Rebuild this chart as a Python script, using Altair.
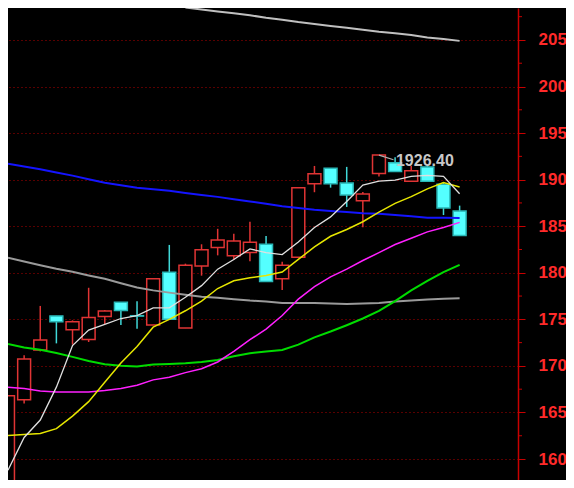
import altair as alt
import pandas as pd

# ---- candle data (index 0..28) ----
idx = list(range(29))
open_ = [1570.0, 1663.7, 1717.0, 1753.7, 1738.8, 1728.4, 1753.0, 1768.3, 1753.9, 1744.0,
         1800.5, 1740.6, 1807.3, 1827.1, 1818.4, 1821.9, 1830.6, 1793.5, 1816.7, 1895.6,
         1912.2, 1896.3, 1877.3, 1906.7, 1918.1, 1898.4, 1913.7, 1895.0, 1866.2]
close = [1667.9, 1707.3, 1727.8, 1747.5, 1747.5, 1752.0, 1758.9, 1759.6, 1753.5, 1793.5,
         1750.2, 1808.1, 1824.7, 1835.1, 1834.0, 1832.7, 1790.7, 1808.1, 1891.4, 1906.4,
         1895.6, 1883.5, 1884.6, 1926.4, 1908.8, 1909.5, 1898.4, 1869.6, 1839.9]
high = [1667.9, 1711.5, 1764.4, 1753.7, 1748.9, 1783.9, 1760.0, 1768.3, 1769.3, 1793.5,
        1829.9, 1809.8, 1830.6, 1847.2, 1842.0, 1854.8, 1839.5, 1811.9, 1891.4, 1914.7,
        1912.2, 1913.7, 1886.7, 1926.4, 1924.0, 1914.7, 1916.4, 1897.4, 1872.1]
low = [1560.0, 1659.6, 1715.6, 1724.2, 1722.9, 1725.7, 1745.0, 1744.0, 1739.8, 1744.0,
       1750.2, 1740.6, 1796.9, 1818.7, 1814.3, 1812.5, 1790.7, 1781.4, 1816.7, 1886.5,
       1891.4, 1870.7, 1848.9, 1903.3, 1908.8, 1898.4, 1898.4, 1862.0, 1839.9]

# ---- moving averages ----
ma_white = [1587.9, 1623.2, 1641.9, 1677.2, 1721.9, 1738.5, 1744.7, 1750.9, 1754.0, 1762.4,
            1762.4, 1773.8, 1786.2, 1803.9, 1814.3, 1825.7, 1821.6, 1819.5, 1833.0, 1848.6,
            1860.0, 1876.6, 1894.2, 1898.4, 1899.4, 1903.6, 1904.6, 1903.6, 1884.9]
ma_yellow = [1625.3, 1626.3, 1627.4, 1632.6, 1646.1, 1661.6, 1682.4, 1703.2, 1720.8, 1741.6,
             1749.9, 1759.2, 1769.6, 1783.1, 1791.4, 1794.6, 1797.1, 1800.8, 1814.3, 1827.8,
             1839.2, 1846.5, 1854.8, 1865.2, 1874.5, 1881.8, 1890.1, 1896.8, 1892.2]
ma_magenta = [1677.2, 1675.7, 1673.1, 1672.0, 1672.0, 1672.0, 1673.6, 1675.7, 1679.3, 1685.0,
              1687.9, 1692.8, 1696.9, 1704.2, 1715.6, 1728.1, 1739.5, 1754.1, 1771.7, 1785.2,
              1795.6, 1803.9, 1813.2, 1821.6, 1830.4, 1837.1, 1843.9, 1848.6, 1854.1]
ma_green = [1723.6, 1719.8, 1717.4, 1713.9, 1709.7, 1705.3, 1701.8, 1700.1, 1699.3, 1701.6,
            1702.1, 1702.9, 1704.2, 1706.3, 1710.4, 1713.6, 1715.6, 1717.2, 1722.9, 1730.7,
            1736.9, 1743.7, 1750.9, 1759.2, 1769.6, 1781.1, 1791.4, 1800.8, 1808.4]
ma_gray = [1816.1, 1812.2, 1808.1, 1804.4, 1801.1, 1797.1, 1793.5, 1788.8, 1784.2, 1781.1,
           1778.7, 1776.4, 1774.3, 1773.3, 1771.7, 1770.2, 1769.1, 1767.6, 1767.6, 1767.6,
           1767.0, 1766.5, 1767.0, 1767.6, 1769.1, 1770.2, 1771.2, 1772.2, 1772.7]
ma_top_idx = list(range(11, 29))
ma_top = [2084.8, 2082.7, 2080.6, 2078.6, 2076.5, 2073.9, 2071.8, 2069.2, 2067.1, 2065.1,
          2063.0, 2060.9, 2058.8, 2057.3, 2055.2, 2052.6, 2051.0, 2049.0]
ma_blue = [1917.1, 1914.0, 1911.2, 1907.7, 1904.3, 1900.5, 1896.6, 1894.0, 1891.4, 1889.8,
           1888.0, 1885.7, 1883.5, 1881.5, 1878.9, 1876.6, 1874.0, 1871.4, 1869.6, 1867.8,
           1866.4, 1865.2, 1863.8, 1863.3, 1862.0, 1860.7, 1859.2, 1859.0, 1858.9]

# ---- axis ticks / annotation ----
major_ticks = [1600, 1650, 1700, 1750, 1800, 1850, 1900, 1950, 2000, 2050]
minor_ticks = [1625, 1675, 1725, 1775, 1825, 1875, 1925, 1975, 2025, 2075]
ann_idx = [23]
ann_val = [1926.4]
ann_text = ["1926.40"]

W, H = 510, 472

df = pd.DataFrame({"idx": idx, "open": open_, "close": close, "high": high, "low": low})
df["dir"] = ["up" if c >= o else "down" for o, c in zip(open_, close)]

xscale = alt.Scale(domain=[0, 31.62], nice=False, zero=False)
yscale = alt.Scale(domain=[1577.5, 2084.3], nice=False, zero=False)
yaxis = alt.Axis(
    orient="right", values=major_ticks, title=None,
    labelExpr="'' + floor(datum.value / 10)",
    labelColor="#ff2a2a", labelFont="Liberation Sans", labelFontWeight="bold",
    labelFontSize=17, labelPadding=13, labelAlign="left", labelBaseline="middle",
    tickColor="#c80000", tickSize=7, tickWidth=1,
    domainColor="#c80000", domainWidth=1.5,
    grid=True, gridColor="#b00000", gridDash=[1, 3], gridWidth=1.2,
)

minor = alt.Chart(pd.DataFrame({"v": minor_ticks})).mark_rule(
    color="#c80000", strokeWidth=1, clip=False
).encode(
    y=alt.Y("v:Q", scale=yscale, axis=yaxis),
    x=alt.value(W), x2=alt.value(W + 4),
)

wick = alt.Chart(df).mark_rule(strokeWidth=1.5, clip=True).encode(
    x=alt.X("idx:Q", scale=xscale, axis=None),
    y=alt.Y("low:Q", scale=yscale, axis=yaxis),
    y2="high:Q",
    color=alt.Color("dir:N", scale=alt.Scale(domain=["up", "down"], range=["#e03434", "#40d8d8"]), legend=None),
)

body = alt.Chart(df).transform_calculate(
    x1="datum.idx - 0.4", x2="datum.idx + 0.4",
    top="max(datum.open, datum.close)", bot="min(datum.open, datum.close)",
).mark_rect(strokeWidth=1.5, clip=True).encode(
    x=alt.X("x1:Q", scale=xscale, axis=None),
    x2="x2:Q",
    y=alt.Y("bot:Q", scale=yscale, axis=yaxis),
    y2="top:Q",
    fill=alt.Fill("dir:N", scale=alt.Scale(domain=["up", "down"], range=["#000000", "#54ffff"]), legend=None),
    stroke=alt.Stroke("dir:N", scale=alt.Scale(domain=["up", "down"], range=["#e03434", "#2ab8b8"]), legend=None),
)

def line_layer(xs, ys, color, width):
    d = pd.DataFrame({"idx": xs, "v": ys})
    return alt.Chart(d).mark_line(color=color, strokeWidth=width, clip=True).encode(
        x=alt.X("idx:Q", scale=xscale, axis=None),
        y=alt.Y("v:Q", scale=yscale, axis=yaxis),
    )

lines = [
    line_layer(ma_top_idx, ma_top, "#c0c0c0", 2),
    line_layer(idx, ma_gray, "#9a9a9a", 2),
    line_layer(idx, ma_blue, "#1414ff", 2),
    line_layer(idx, ma_green, "#00dc00", 2),
    line_layer(idx, ma_magenta, "#ff20ff", 1.5),
    line_layer(idx, ma_yellow, "#e6e600", 1.5),
    line_layer(idx, ma_white, "#e0e0e0", 1.3),
]

ann_df = pd.DataFrame({"idx": ann_idx, "v": ann_val, "label": ann_text})
ann_line = alt.Chart(ann_df).transform_calculate(
    ix2="datum.idx + 0.9", v2="datum.v - 5"
).mark_rule(color="#b0b0b0", strokeWidth=1.2).encode(
    x=alt.X("idx:Q", scale=xscale, axis=None), x2="ix2:Q",
    y=alt.Y("v:Q", scale=yscale, axis=yaxis), y2="v2:Q",
)
ann = alt.Chart(ann_df).mark_text(
    align="left", baseline="middle", dx=17, dy=6,
    font="Liberation Sans", fontWeight="bold", fontSize=16, color="#c8c8c8",
).encode(
    x=alt.X("idx:Q", scale=xscale, axis=None),
    y=alt.Y("v:Q", scale=yscale, axis=yaxis),
    text="label:N",
)

chart = alt.layer(minor, wick, body, *lines, ann_line, ann).properties(
    width=W, height=H, background="#000000",
    padding={"left": 0, "top": 0, "right": 48, "bottom": 0},
    autosize=alt.AutoSizeParams(type="none"),
).configure_view(strokeWidth=0)

chart.save("out.html", embed_options={"renderer": "svg", "actions": False})
